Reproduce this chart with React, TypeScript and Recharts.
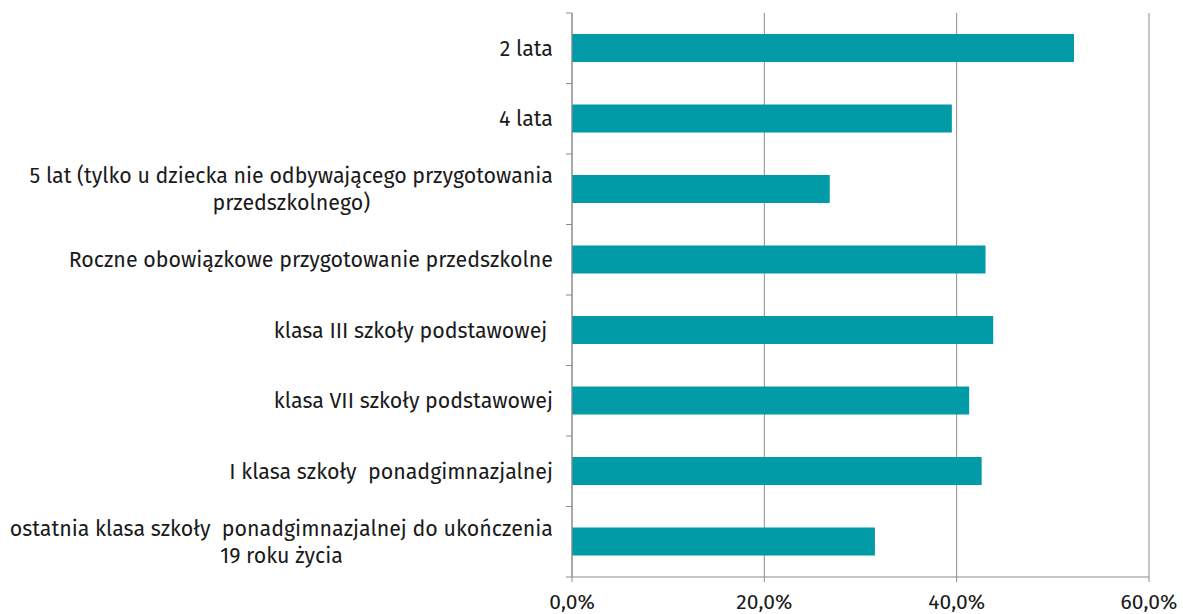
import { BarChart, Bar, XAxis, YAxis, CartesianGrid } from "recharts"

const categories = [
  "2 lata",
  "4 lata",
  "5 lat (tylko u dziecka nie odbywającego przygotowania\nprzedszkolnego)",
  "Roczne obowiązkowe przygotowanie przedszkolne",
  "klasa III szkoły podstawowej ",
  "klasa VII szkoły podstawowej",
  "I klasa szkoły  ponadgimnazjalnej",
  "ostatnia klasa szkoły  ponadgimnazjalnej do ukończenia\n19 roku życia",
]
const shares = [0.522, 0.395, 0.268, 0.43, 0.438, 0.413, 0.426, 0.315]
const xTicks = [0, 0.2, 0.4, 0.6]

const data = categories.map((name, i) => ({ name, value: shares[i] }))

const FAMILY = "'Fira Sans', 'Noto Sans', sans-serif"
const FONT = `21.4px ${FAMILY}`
const BAND = (577 - 13) / categories.length

let ctx: CanvasRenderingContext2D | null = null
function textWidth(s: string) {
  if (!ctx) ctx = document.createElement("canvas").getContext("2d")
  if (!ctx) return s.length * 10
  ctx.font = FONT
  return ctx.measureText(s).width
}

const pct = (v: number) => (v * 100).toFixed(1).replace(".", ",") + "%"

// category labels: right-aligned block, wrapped lines centred within it,
// plus tick marks on the band boundaries like the original
function CategoryTick(props: any) {
  const { x, y, payload, index } = props
  const lines: string[] = String(payload.value).split("\n")
  const axisX = x + 19
  const lineH = 27
  const top = y - ((lines.length - 1) * lineH) / 2
  const blockW = Math.max(...lines.map(textWidth))
  return (
    <g>
      <line x1={axisX - 6} x2={axisX} y1={y - BAND / 2} y2={y - BAND / 2} stroke="#8c8c8c" />
      {index === categories.length - 1 && (
        <line x1={axisX - 6} x2={axisX} y1={y + BAND / 2} y2={y + BAND / 2} stroke="#8c8c8c" />
      )}
      {lines.map((l, i) => (
        <text
          key={i}
          x={lines.length > 1 ? x - blockW / 2 : x}
          y={top + i * lineH}
          dy="0.35em"
          textAnchor={lines.length > 1 ? "middle" : "end"}
          fill="#1a1a1a"
          style={{ font: FONT, whiteSpace: "pre" }}
        >
          {l}
        </text>
      ))}
    </g>
  )
}

export default function App() {
  return (
    <div style={{ position: "absolute", left: 0, top: 0, background: "#fff" }}>
      <BarChart
        width={1183}
        height={614}
        data={data}
        layout="vertical"
        margin={{ top: 13, right: 34, left: 0, bottom: 0 }}
      >
        <CartesianGrid horizontal={false} stroke="#8c8c8c" strokeWidth={1} />
        <XAxis
          type="number"
          domain={[0, 0.6]}
          ticks={xTicks}
          tickFormatter={pct}
          height={37}
          stroke="#8c8c8c"
          tickSize={5}
          tickMargin={12}
          tick={{ fill: "#1a1a1a", fontSize: 21, fontFamily: FAMILY }}
        />
        <YAxis
          type="category"
          dataKey="name"
          width={572}
          stroke="#8c8c8c"
          tickLine={false}
          tickSize={0}
          tickMargin={19}
          interval={0}
          tick={<CategoryTick />}
        />
        <Bar dataKey="value" fill="#009BA6" barSize={28} isAnimationActive={false} />
      </BarChart>
    </div>
  )
}
